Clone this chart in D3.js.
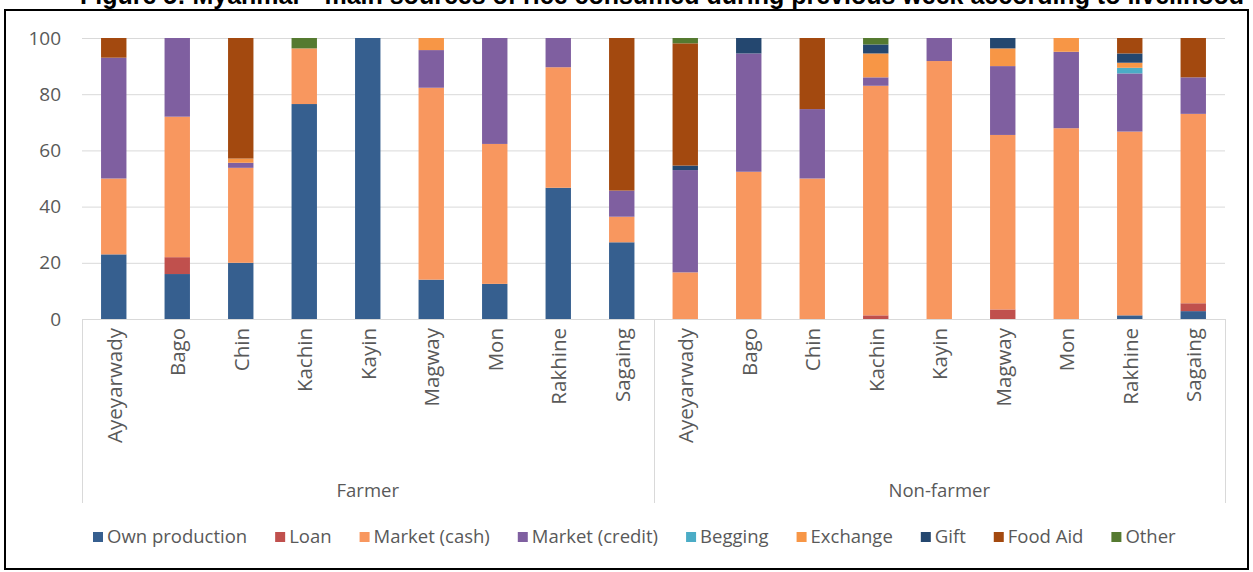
<!DOCTYPE html>
<html>
<head>
<meta charset="utf-8">
<script src="https://cdn.jsdelivr.net/npm/d3@7/dist/d3.min.js"></script>
<style>
  html, body { margin: 0; padding: 0; background: #fff; }
  svg { display: block; }
</style>
</head>
<body>
<svg id="chart" width="1253" height="572"></svg>
<script>
// ---------------- DATA ----------------
const titleText = "Figure 5: Myanmar - main sources of rice consumed during previous week according to livelihood";
const groups = ["Farmer", "Non-farmer"];
const regions = ["Ayeyarwady", "Bago", "Chin", "Kachin", "Kayin", "Magway", "Mon", "Rakhine", "Sagaing"];
const yTicks = [0, 20, 40, 60, 80, 100];
const seriesNames = ["Own production", "Loan", "Market (cash)", "Market (credit)", "Begging", "Exchange", "Gift", "Food Aid", "Other"];
const seriesColors = ["#365f8f", "#c0504d", "#f8975f", "#7f5fa0", "#4bacc6", "#f79646", "#24476f", "#a3490f", "#557a30"];

// values: 9 Farmer regions followed by 9 Non-farmer regions
const ownProduction = [23, 16, 20, 76.5, 100, 14, 12.5, 46.7, 27.3,   0, 0, 0, 0, 0, 0, 0, 1.3, 2.8];
const loan          = [0, 6, 0, 0, 0, 0, 0, 0, 0,                      0, 0, 0, 1.3, 0, 3.4, 0, 0, 2.8];
const marketCash    = [27, 50, 33.8, 19.8, 0, 68.3, 49.8, 42.9, 9.1,  16.6, 52.4, 50, 81.7, 91.8, 62.1, 67.9, 65.4, 67.4];
const marketCredit  = [43, 28, 1.8, 0, 0, 13.4, 37.7, 10.4, 9.3,      36.4, 42.1, 24.7, 3, 8.2, 24.5, 27.2, 20.7, 13];
const begging       = [0, 0, 0, 0, 0, 0, 0, 0, 0,                      0, 0, 0, 0, 0, 0, 0, 2, 0];
const exchange      = [0, 0, 1.5, 0, 0, 4.3, 0, 0, 0,                  0, 0, 0, 8.5, 0, 6.3, 4.9, 1.8, 0];
const gift          = [0, 0, 0, 0, 0, 0, 0, 0, 0,                      1.6, 5.5, 0, 3.2, 0, 3.7, 0, 3.3, 0];
const foodAid       = [7, 0, 42.9, 0, 0, 0, 0, 0, 54.3,                43.5, 0, 25.3, 0, 0, 0, 0, 5.5, 14];
const other         = [0, 0, 0, 3.7, 0, 0, 0, 0, 0,                    1.9, 0, 0, 2.3, 0, 0, 0, 0, 0];

const seriesValues = [ownProduction, loan, marketCash, marketCredit, begging, exchange, gift, foodAid, other];

// ---------------- BUILD TABLE ----------------
const rows = [];
groups.forEach((g, gi) => {
  regions.forEach((r, ri) => {
    const idx = gi * regions.length + ri;
    const row = { key: g + "|" + r, group: g, region: r };
    seriesNames.forEach((s, si) => { row[s] = seriesValues[si][idx]; });
    rows.push(row);
  });
});

// ---------------- LAYOUT ----------------
const svg = d3.select("#chart");
const plotLeft = 82, plotRight = 1225, plotTop = 38, plotBottom = 319;
const axisBoxBottom = 503;
const textGray = "#595959";
const fontFam = "'Open Sans', 'Noto Sans', sans-serif";

const x = d3.scaleBand()
  .domain(rows.map(d => d.key))
  .range([plotLeft, plotRight])
  .paddingInner(0.6)
  .paddingOuter(0.3);

const y = d3.scaleLinear().domain([0, 100]).range([plotBottom, plotTop]);

// Frame
svg.append("rect")
  .attr("x", 5).attr("y", 10).attr("width", 1243).attr("height", 559)
  .attr("fill", "none").attr("stroke", "#000").attr("stroke-width", 2);

// Title (cut off at the top edge, as in the reference)
svg.append("text")
  .attr("x", 662).attr("y", 4)
  .attr("text-anchor", "middle")
  .attr("font-family", "'Liberation Sans', Arial, sans-serif")
  .attr("font-weight", "bold")
  .attr("font-size", 25)
  .attr("fill", "#000")
  .text(titleText);

// Gridlines + y tick labels
const yAxis = d3.axisLeft(y).tickValues(yTicks).tickSize(-(plotRight - plotLeft)).tickPadding(21);
const gy = svg.append("g").attr("transform", `translate(${plotLeft},0)`).call(yAxis);
gy.select(".domain").remove();
gy.selectAll(".tick line").attr("stroke", "#d9d9d9").attr("stroke-width", 1);
gy.selectAll(".tick text")
  .attr("font-family", fontFam).attr("font-size", 19).attr("fill", textGray);

// Stacked bars
const stack = d3.stack().keys(seriesNames);
const stacked = stack(rows);

svg.append("g").selectAll("g")
  .data(stacked)
  .join("g")
  .attr("fill", (d, i) => seriesColors[i])
  .selectAll("rect")
  .data(d => d)
  .join("rect")
  .attr("x", d => x(d.data.key))
  .attr("width", x.bandwidth())
  .attr("y", d => y(d[1]))
  .attr("height", d => Math.max(0, y(d[0]) - y(d[1])));

// Category axis box
const axisG = svg.append("g").attr("stroke", "#d9d9d9").attr("stroke-width", 1);
axisG.append("line")
  .attr("x1", plotLeft).attr("x2", plotRight)
  .attr("y1", plotBottom + 0.5).attr("y2", plotBottom + 0.5);
const lastF = x(groups[0] + "|" + regions[regions.length - 1]) + x.bandwidth();
const firstNF = x(groups[1] + "|" + regions[0]);
const midDiv = (lastF + firstNF) / 2;
[plotLeft, midDiv, plotRight].forEach(xv => {
  axisG.append("line")
    .attr("x1", Math.round(xv) + 0.5).attr("x2", Math.round(xv) + 0.5)
    .attr("y1", plotBottom).attr("y2", axisBoxBottom);
});

// Category labels (rotated)
svg.append("g").selectAll("text")
  .data(rows)
  .join("text")
  .attr("transform", d => `translate(${x(d.key) + x.bandwidth() / 2 + 1},${plotBottom + 9}) rotate(-90)`)
  .attr("text-anchor", "end")
  .attr("dy", "0.35em")
  .attr("font-family", fontFam)
  .attr("font-size", 20.5)
  .attr("fill", textGray)
  .text(d => d.region);

// Group labels
const groupCenters = [(plotLeft + midDiv) / 2, (midDiv + plotRight) / 2];
svg.append("g").selectAll("text")
  .data(groups)
  .join("text")
  .attr("x", (d, i) => groupCenters[i])
  .attr("y", 497)
  .attr("text-anchor", "middle")
  .attr("font-family", fontFam)
  .attr("font-size", 18.5)
  .attr("fill", textGray)
  .text(d => d);

// Legend
const legend = svg.append("g");
let lx = 93;
const ly = 537;
seriesNames.forEach((s, i) => {
  legend.append("rect")
    .attr("x", lx).attr("y", ly - 5).attr("width", 10).attr("height", 10)
    .attr("fill", seriesColors[i]);
  const t = legend.append("text")
    .attr("x", lx + 14).attr("y", ly)
    .attr("dy", "0.35em")
    .attr("font-family", fontFam)
    .attr("font-size", 18.5)
    .attr("fill", textGray)
    .text(s);
  lx += 14 + t.node().getComputedTextLength() + 28;
});
</script>
</body>
</html>
